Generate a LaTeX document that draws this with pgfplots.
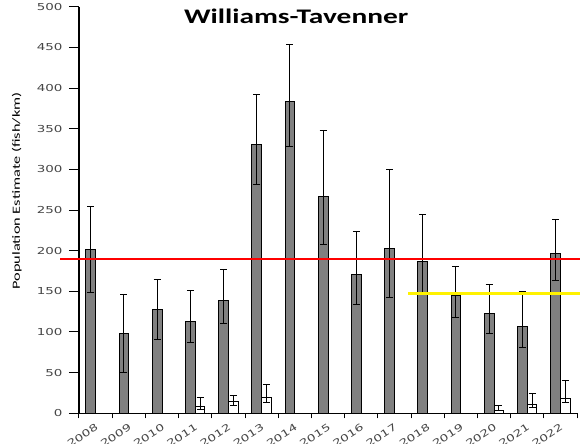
\documentclass[border=0pt]{standalone}
\usepackage{fontspec}
\usepackage{pgfplots}
\usepackage{pgfplotstable}
\pgfplotsset{compat=1.18}

\newfontfamily\titlefont[FakeStretch=1.42]{Carlito}
\newfontfamily\labelfont[FakeStretch=1.5]{Carlito}
\newfontfamily\tickfont[FakeStretch=1.4]{DejaVu Sans}

\definecolor{barfill}{RGB}{128,128,128}
\definecolor{ticktext}{RGB}{70,70,70}

% Population estimates (fish/km) with lower and upper confidence limits
\pgfplotstableread{
x  v    lo   hi
0  201  149  254
1  98   50   146
2  128  91   164
3  113  87   151
4  139  111  177
5  330  281  392
6  384  328  454
7  267  208  348
8  171  134  223
9  203  142  300
10 187  148  245
11 145  118  181
12 123  98   159
13 107  81   150
14 197  163  238
}\adults

\pgfplotstableread{
x  v    lo   hi
3  8    5    20
4  14   10   22
5  20   13   36
12 4    3    10
13 11   7    24
14 18   13   40
}\juveniles

\pgfplotsset{
  ci bars/.style={draw=none, mark=none, forget plot,
    error bars/.cd, y dir=both, y explicit, error mark=|,
    error bar style={draw=black, line width=1bp},
    error mark options={draw=black, line width=1bp, mark size=3.5bp}},
}

\begin{document}
\begin{tikzpicture}
\useasboundingbox (-79bp,-30.7bp) rectangle (501bp,413.3bp);
\begin{axis}[
  at={(0,0)}, anchor=south west,
  scale only axis, width=498bp, height=406.6bp,
  xmin=-0.5, xmax=14.5, ymin=0, ymax=500,
  axis x line*=bottom, axis y line*=left,
  axis line style={line width=1.2bp, black},
  clip=false,
  tick align=outside,
  ytick={0,50,...,500},
  xtick={0,...,14},
  xticklabels={2008,2009,2010,2011,2012,2013,2014,2015,2016,2017,2018,2019,2020,2021,2022},
  minor xtick={-0.5,0.5,...,14.5},
  major tick length=10bp,
  minor tick length=5bp,
  major x tick style={draw=none},
  minor x tick style={black, line width=1bp},
  ytick style={black, line width=1bp},
  /pgf/number format/assume math mode=true,
  yticklabel style={font=\tickfont\fontsize{9.6bp}{10bp}\selectfont, text=ticktext, xshift=-3bp},
  xticklabel style={font=\tickfont\fontsize{9.6bp}{10bp}\selectfont, text=ticktext,
    rotate=33, anchor=north east, yshift=4bp, xshift=3bp},
  title={Williams-Tavenner},
  title style={at={(axis description cs:0.436,0.962)}, anchor=center,
    font=\titlefont\bfseries\fontsize{20.7bp}{22bp}\selectfont},
  ylabel={Population Estimate (fish/km)},
  ylabel style={at={(axis description cs:-0.125,0.547)}, anchor=center,
    font=\labelfont\fontsize{10.9bp}{12bp}\selectfont},
]
\addplot[ybar, bar width=9.7bp, bar shift=-4.85bp, fill=barfill, draw=black, line width=1bp]
  table[x=x, y=v] {\adults};
\addplot[ybar, bar width=9.7bp, bar shift=4.85bp, fill=white, draw=black, line width=1bp]
  table[x=x, y=v] {\juveniles};
% confidence limits, centred on each bar
\addplot[ci bars]
  table[x expr=\thisrow{x}-0.146, y=v, y error plus expr=\thisrow{hi}-\thisrow{v}, y error minus expr=\thisrow{v}-\thisrow{lo}] {\adults};
\addplot[ci bars]
  table[x expr=\thisrow{x}+0.146, y=v, y error plus expr=\thisrow{hi}-\thisrow{v}, y error minus expr=\thisrow{v}-\thisrow{lo}] {\juveniles};
% reference levels
\addplot[red, line width=2.5bp] coordinates {(-1.07,190) (14.59,190)};
\addplot[yellow, line width=3bp] coordinates {(9.41,147.5) (14.59,147.5)};
\end{axis}
\end{tikzpicture}
\end{document}
